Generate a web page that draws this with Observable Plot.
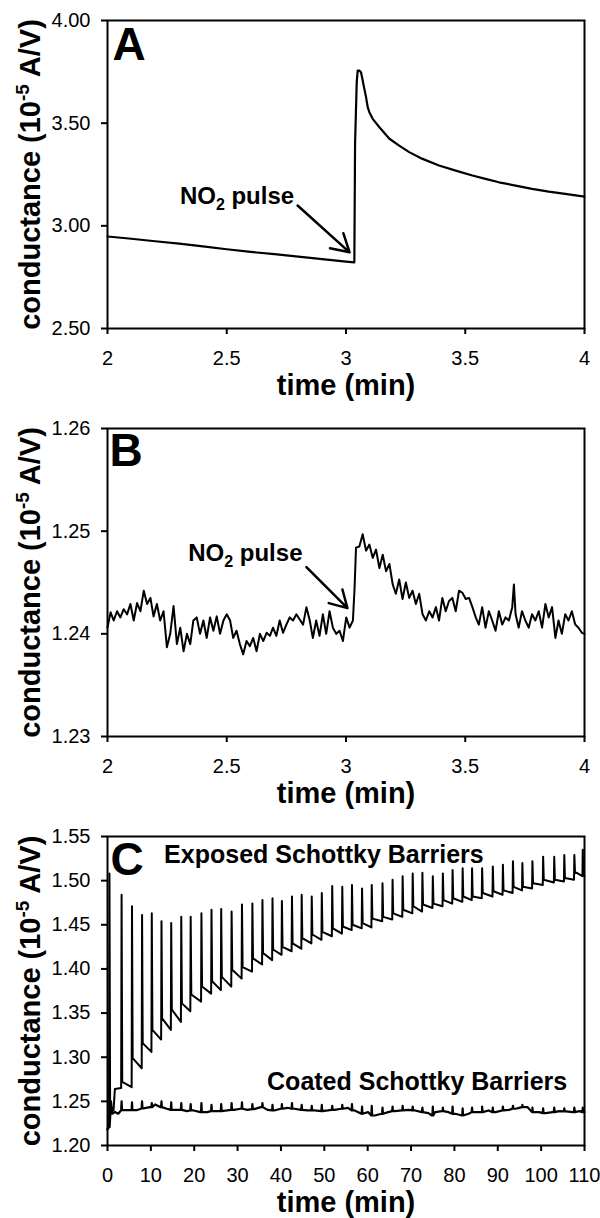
<!DOCTYPE html>
<html><head><meta charset="utf-8">
<script src="https://cdn.jsdelivr.net/npm/d3@7"></script>
<script src="https://cdn.jsdelivr.net/npm/@observablehq/plot@0.6"></script>
<style>
body{margin:0;background:#fff;}
#chart{width:600px;}
#chart svg{display:block;}
</style></head><body><div id="chart"></div>
<script>
const FONT = '"Liberation Sans", Arial, Helvetica, sans-serif';

// ---------- Panel A ----------
const aTime = [2.00,2.10,2.20,2.30,2.40,2.50,2.60,2.70,2.80,2.90,3.00,3.035,3.038,3.045,3.049,3.056,3.063,3.077,3.084,3.091,3.098,3.112,3.140,3.182,3.223,3.265,3.321,3.390,3.460,3.530,3.585,3.641,3.711,3.780,3.850,3.919,4.00];
const aCond = [2.948,2.937,2.925,2.913,2.900,2.886,2.873,2.862,2.850,2.838,2.826,2.822,3.400,3.700,3.756,3.756,3.748,3.667,3.627,3.578,3.553,3.521,3.480,3.424,3.391,3.359,3.326,3.294,3.269,3.245,3.229,3.212,3.196,3.180,3.167,3.156,3.142];
const aXTicks = [2, 2.5, 3, 3.5, 4];
const aYTicks = [2.5, 3.0, 3.5, 4.0];
const aNoteT = [2.543], aNoteV = [3.145];
const aArrowT = [2.797, 3.015], aArrowV = [3.099, 2.871];

// ---------- Panel B ----------
const bTime = [
2.000,2.013,2.026,2.040,2.054,2.068,2.082,2.096,2.110,2.124,
2.138,2.152,2.166,2.180,2.193,2.207,2.221,2.235,2.249,2.263,
2.277,2.291,2.305,2.319,2.333,2.347,2.360,2.374,2.388,2.402,
2.416,2.430,2.444,2.458,2.472,2.486,2.500,2.514,2.527,2.541,
2.555,2.569,2.583,2.597,2.611,2.625,2.639,2.653,2.667,2.681,
2.694,2.708,2.722,2.736,2.750,2.764,2.778,2.792,2.806,2.820,
2.834,2.848,2.861,2.875,2.889,2.903,2.917,2.931,2.945,2.959,
2.973,2.987,3.001,3.015,3.029,3.036,3.042,3.056,3.070,3.084,
3.098,3.112,3.126,3.140,3.154,3.168,3.182,3.196,3.209,3.223,
3.237,3.251,3.265,3.279,3.293,3.307,3.321,3.335,3.349,3.363,
3.377,3.390,3.404,3.418,3.432,3.446,3.460,3.474,3.488,3.502,
3.516,3.530,3.544,3.557,3.571,3.585,3.599,3.613,3.627,3.641,
3.655,3.669,3.683,3.697,3.704,3.711,3.724,3.738,3.752,3.766,
3.780,3.794,3.808,3.822,3.836,3.850,3.864,3.878,3.891,3.905,
3.919,3.933,3.947,3.961,3.975,3.989,4.000];
const bCond = [
1.2406,1.2421,1.2413,1.2422,1.2416,1.2424,1.2419,1.2429,1.2413,1.2430,
1.2422,1.2442,1.2429,1.2435,1.2417,1.2429,1.2413,1.2422,1.2387,1.2400,
1.2427,1.2390,1.2406,1.2383,1.2400,1.2390,1.2413,1.2416,1.2400,1.2413,
1.2396,1.2416,1.2403,1.2417,1.2400,1.2413,1.2419,1.2413,1.2396,1.2403,
1.2390,1.2380,1.2393,1.2388,1.2396,1.2383,1.2400,1.2393,1.2401,1.2398,
1.2406,1.2398,1.2413,1.2401,1.2409,1.2416,1.2413,1.2419,1.2414,1.2409,
1.2426,1.2413,1.2396,1.2413,1.2398,1.2419,1.2400,1.2422,1.2406,1.2400,
1.2403,1.2393,1.2416,1.2406,1.2413,1.2445,1.2484,1.2485,1.2497,1.2481,
1.2487,1.2474,1.2482,1.2464,1.2477,1.2461,1.2468,1.2448,1.2439,1.2453,
1.2434,1.2450,1.2435,1.2442,1.2429,1.2439,1.2419,1.2413,1.2422,1.2416,
1.2426,1.2413,1.2435,1.2422,1.2432,1.2435,1.2422,1.2442,1.2440,1.2434,
1.2435,1.2426,1.2416,1.2409,1.2426,1.2406,1.2422,1.2413,1.2403,1.2422,
1.2409,1.2416,1.2413,1.2426,1.2448,1.2419,1.2406,1.2422,1.2413,1.2406,
1.2419,1.2413,1.2422,1.2406,1.2429,1.2416,1.2426,1.2396,1.2413,1.2400,
1.2419,1.2413,1.2422,1.2409,1.2406,1.2401,1.2400];
const bXTicks = [2, 2.5, 3, 3.5, 4];
const bYTicks = [1.23, 1.24, 1.25, 1.26];
const bNoteT = [2.578], bNoteV = [1.2478];
const bArrowT = [2.834, 3.006], bArrowV = [1.2465, 1.2425];

// ---------- Panel C ----------
const pulseTimes = [3.25,5.65,7.97,10.21,12.45,14.69,17.01,19.18,21.66,23.98,26.22,28.62,31.01,33.41,35.73,38.05,40.22,42.54,44.78,47.10,49.42,51.82,54.14,56.38,58.70,60.94,63.42,65.74,68.06,70.38,72.62,75.02,77.34,79.58,81.90,84.07,86.39,88.86,91.18,93.50,95.67,97.99,100.46,103.02,105.34,107.66,109.60];
const exposedPeak = [1.484,1.471,1.461,1.463,1.454,1.452,1.459,1.459,1.463,1.467,1.468,1.465,1.473,1.474,1.478,1.480,1.477,1.482,1.484,1.482,1.486,1.494,1.493,1.495,1.491,1.495,1.497,1.501,1.505,1.508,1.509,1.505,1.508,1.512,1.514,1.514,1.514,1.516,1.518,1.522,1.520,1.522,1.527,1.527,1.529,1.529,1.535];
const exposedAfter = [1.272,1.299,1.316,1.331,1.344,1.354,1.361,1.371,1.380,1.386,1.391,1.399,1.402,1.412,1.418,1.422,1.425,1.429,1.435,1.439,1.442,1.446,1.448,1.450,1.452,1.457,1.459,1.463,1.467,1.471,1.473,1.474,1.478,1.480,1.482,1.482,1.486,1.488,1.489,1.493,1.493,1.497,1.501,1.501,1.503,1.510,1.507];
const exposedEnd = [1.266,1.2875,1.306,1.320,1.331,1.340,1.352,1.363,1.372,1.376,1.380,1.389,1.397,1.405,1.410,1.416,1.420,1.423,1.429,1.433,1.437,1.440,1.444,1.446,1.447,1.454,1.456,1.459,1.463,1.465,1.469,1.471,1.474,1.476,1.478,1.480,1.482,1.484,1.486,1.489,1.491,1.495,1.498,1.499,1.501,1.505,1.505];
const exposedLeadTime = [0, 0.35, 0.45, 0.6, 1.4, 1.7, 3.15];
const exposedLeadCond = [1.218, 1.222, 1.508, 1.245, 1.240, 1.264, 1.265];
const coatedTime = [0,0.5,0.8,1.1,1.70,2.47,3.63,5.18,6.73,8.28,9.82,10.98,12.14,13.69,15.24,16.78,18.33,19.88,21.42,22.97,24.52,26.06,27.61,29.16,30.70,32.25,33.80,35.34,36.89,38.44,39.98,41.53,43.08,44.63,46.17,47.72,49.27,50.81,52.36,53.91,55.45,57.00,58.55,60.09,61.64,63.19,64.73,66.28,67.83,69.37,70.92,72.47,74.01,74.79,75.56,77.11,78.65,80.20,81.75,83.29,84.84,86.39,87.93,89.48,91.03,92.58,94.12,95.67,96.83,97.99,99.54,101.08,102.63,104.18,105.72,107.27,108.82,110];
const coatedCond = [1.219,1.221,1.250,1.236,1.238,1.236,1.240,1.240,1.240,1.242,1.2435,1.2465,1.2435,1.2416,1.2404,1.2404,1.2389,1.2397,1.2378,1.2378,1.2389,1.2389,1.2397,1.2404,1.2416,1.2404,1.2412,1.2435,1.2404,1.2397,1.2416,1.2427,1.2416,1.2404,1.2397,1.2397,1.2389,1.2397,1.2404,1.2416,1.2427,1.2397,1.2359,1.2378,1.2340,1.2359,1.2378,1.2389,1.2397,1.2404,1.2397,1.2378,1.2367,1.2340,1.2378,1.2389,1.2378,1.2359,1.2340,1.2359,1.2378,1.2378,1.2397,1.2378,1.2397,1.2404,1.2416,1.2435,1.2435,1.2378,1.2378,1.2367,1.2378,1.2389,1.2386,1.2378,1.2389,1.2378];
const coatedPeak = [1.250,1.249,1.250,1.248,1.250,1.249,1.248,1.247,1.248,1.246,1.247,1.248,1.249,1.247,1.248,1.246,1.247,1.248,1.246,1.245,1.246,1.245,1.246,1.247,1.244,1.245,1.243,1.244,1.245,1.244,1.243,1.244,1.243,1.244,1.242,1.243,1.244,1.243,1.244,1.245,1.246,1.243,1.242,1.243,1.242,1.243,1.243];
const cXTicks = [0,10,20,30,40,50,60,70,80,90,100,110];
const cYTicks = [1.20,1.25,1.30,1.35,1.40,1.45,1.50,1.55];
const cLabels = ["Exposed Schottky Barriers", "Coated Schottky Barriers"];
const cLabelT = [49.9, 71.4], cLabelV = [1.5285, 1.2717];

const xTitle = "time (min)";
const yTitle = "conductance (10-5 A/V)";
const noteText = "NO2 pulse";

// ---------- assemble tables ----------
const zip = (ts, vs) => ts.map((t, i) => ({t, v: vs[i]}));
const aData = zip(aTime, aCond);
const bData = zip(bTime, bCond);

const exposed = zip(exposedLeadTime, exposedLeadCond);
pulseTimes.forEach((t, i) => {
  if (i > 0) exposed.push({t: t - 0.08, v: exposedEnd[i - 1]});
  exposed.push({t, v: exposedPeak[i]});
  exposed.push({t: t + 0.15, v: exposedAfter[i]});
});
exposed.push({t: 110, v: exposedEnd[exposedEnd.length - 1]});

const coated = zip(coatedTime, coatedCond);
pulseTimes.forEach((t, i) => {
  let best = 0;
  coatedTime.forEach((ct, j) => { if (Math.abs(ct - t) < Math.abs(coatedTime[best] - t)) best = j; });
  const b = coatedCond[best];
  coated.push({t: t - 0.1, v: b}, {t, v: coatedPeak[i]}, {t: t + 0.1, v: b});
});
coated.sort((p, q) => p.t - q.t);

const fmt2 = d3.format(".2f");

function panel(cfg) {
  const marks = [
    Plot.frame({stroke: "black", strokeWidth: 2}),
    Plot.axisY({ticks: cfg.yTicks, tickFormat: fmt2, tickSize: 6, tickPadding: 11, strokeWidth: 2, fontSize: 20, label: null}),
    Plot.axisX({ticks: cfg.xTicks, tickFormat: d => String(d), tickSize: 6, tickPadding: 16, strokeWidth: 2, fontSize: 20, label: null}),
    ...cfg.series.map(s => Plot.line(s.data, {x: "t", y: "v", stroke: "black", strokeWidth: s.w, strokeLinejoin: "round"})),
    Plot.text([cfg.letter], {text: d => d, frameAnchor: "top-left", dx: cfg.ldx, dy: cfg.ldy, lineAnchor: "top", textAnchor: "start", fontSize: 46, fontWeight: "bold"}),
    Plot.text([xTitle], {text: d => d, frameAnchor: "bottom", dy: 57, lineAnchor: "middle", textAnchor: "middle", fontSize: 29, fontWeight: "bold"}),
    Plot.text([yTitle], {text: d => d, frameAnchor: "left", dx: -77, rotate: -90, lineAnchor: "middle", textAnchor: "middle", fontSize: 29, fontWeight: "bold"}),
    ...(cfg.extra || [])
  ];
  const svg = Plot.plot({
    width: 600, height: cfg.height,
    marginLeft: 107, marginRight: 16, marginTop: cfg.mt, marginBottom: cfg.mb,
    style: {fontFamily: FONT, color: "black", background: "white", overflow: "visible"},
    x: {domain: cfg.xDomain, label: null},
    y: {domain: cfg.yDomain, label: null},
    marks
  });
  for (const t of svg.querySelectorAll("text")) {
    if (t.textContent === yTitle) rich(t, [{s: "conductance (10"}, {s: "-5", dy: -11, size: 19}, {s: " A/V)", dy: 11}]);
    else if (t.textContent === noteText) rich(t, [{s: "NO"}, {s: "2", dy: 6, size: 16}, {s: " pulse", dy: -6}]);
  }
  return svg;
}
function rich(t, parts) {
  t.textContent = "";
  for (const p of parts) {
    const sp = document.createElementNS("http://www.w3.org/2000/svg", "tspan");
    sp.textContent = p.s;
    if (p.dy) sp.setAttribute("dy", p.dy);
    if (p.size) sp.setAttribute("font-size", p.size);
    t.appendChild(sp);
  }
}
function note(ts, vs, arrT, arrV) {
  return [
    Plot.text([noteText], {text: d => d, x: () => ts[0], y: () => vs[0], fontSize: 24, fontWeight: "bold"}),
    Plot.arrow([0], {x1: () => arrT[0], y1: () => arrV[0], x2: () => arrT[1], y2: () => arrV[1], stroke: "black", strokeWidth: 2.5, headLength: 12})
  ];
}

const root = document.getElementById("chart");
root.appendChild(panel({
  height: 415, mt: 20, mb: 87, xDomain: [2, 4], yDomain: [2.5, 4.0],
  xTicks: aXTicks, yTicks: aYTicks, letter: "A", ldx: 5, ldy: 7,
  series: [{data: aData, w: 2.2}],
  extra: note(aNoteT, aNoteV, aArrowT, aArrowV)
}));
root.appendChild(panel({
  height: 407, mt: 13, mb: 86, xDomain: [2, 4], yDomain: [1.23, 1.26],
  xTicks: bXTicks, yTicks: bYTicks, letter: "B", ldx: 2, ldy: 5,
  series: [{data: bData, w: 2}],
  extra: note(bNoteT, bNoteV, bArrowT, bArrowV)
}));
root.appendChild(panel({
  height: 396, mt: 14, mb: 73, xDomain: [0, 110], yDomain: [1.20, 1.55],
  xTicks: cXTicks, yTicks: cYTicks, letter: "C", ldx: 3, ldy: 6,
  series: [{data: exposed, w: 2}, {data: coated, w: 2.2}],
  extra: [Plot.text(cLabels, {text: d => d, x: (d, i) => cLabelT[i], y: (d, i) => cLabelV[i], fontSize: 25, fontWeight: "bold"})]
}));
</script></body></html>
